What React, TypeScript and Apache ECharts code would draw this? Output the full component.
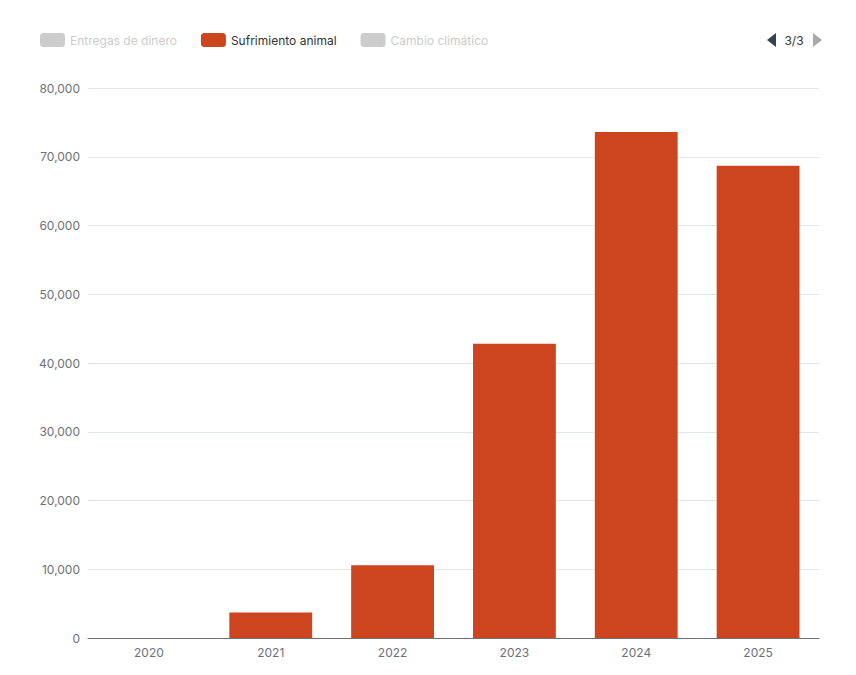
import React, { useEffect, useRef } from "react";
import * as echarts from "echarts";

const years = ["2020", "2021", "2022", "2023", "2024", "2025"];
const sufrimientoAnimal = [0, 3700, 10600, 42800, 73600, 68700];
const entregasDeDinero: number[] = [];
const cambioClimatico: number[] = [];
const seriesNames = ["Entregas de dinero", "Sufrimiento animal", "Cambio climático"];
const pagerText = "3/3";
const FONT = "Inter, Liberation Sans, Arial, sans-serif";

export default function App() {
  const ref = useRef<HTMLDivElement>(null);
  useEffect(() => {
    document.body.style.margin = "0";
    const chart = echarts.init(ref.current!, null, { renderer: "svg" });
    chart.setOption({
      animation: false,
      textStyle: { fontFamily: FONT },
      color: ["#5470c6", "#CC451E", "#91cc75"],
      legend: {
        left: 35,
        top: 28,
        itemWidth: 25,
        itemHeight: 14,
        itemGap: 24,
        data: seriesNames,
        selected: {
          [seriesNames[0]]: false,
          [seriesNames[1]]: true,
          [seriesNames[2]]: false,
        },
        textStyle: { color: "#333", fontSize: 12, fontFamily: FONT },
        inactiveColor: "#ccc",
      },
      graphic: [
        {
          type: "polygon",
          shape: { points: [[776, 33], [776, 47], [767, 40]] },
          style: { fill: "#2f4554" },
        },
        {
          type: "text",
          x: 794,
          y: 40,
          style: {
            text: pagerText,
            fill: "#333",
            fontSize: 12,
            fontFamily: FONT,
            align: "center",
            verticalAlign: "middle",
          },
        },
        {
          type: "polygon",
          shape: { points: [[813, 33], [813, 47], [822, 40]] },
          style: { fill: "#aaa" },
        },
      ],
      grid: { left: 88, right: 37, top: 88, bottom: 37 },
      xAxis: {
        type: "category",
        data: years,
        axisLine: { lineStyle: { color: "#6E7079" } },
        axisTick: { lineStyle: { color: "#6E7079" } },
        axisLabel: { color: "#6E7079", fontSize: 12, margin: 8, fontFamily: FONT },
      },
      yAxis: {
        type: "value",
        min: 0,
        max: 80000,
        interval: 10000,
        axisLabel: {
          color: "#6E7079",
          fontSize: 12,
          margin: 8,
          fontFamily: FONT,
          formatter: (v: number) => v.toLocaleString("en-US"),
        },
        splitLine: { lineStyle: { color: "#E0E6F1" } },
      },
      series: [
        { name: seriesNames[0], type: "bar", data: entregasDeDinero, barWidth: "68%" },
        { name: seriesNames[1], type: "bar", data: sufrimientoAnimal, barWidth: "68%" },
        { name: seriesNames[2], type: "bar", data: cambioClimatico, barWidth: "68%" },
      ],
    });
    return () => chart.dispose();
  }, []);
  return (
    <div
      ref={ref}
      style={{ position: "absolute", left: 0, top: 0, width: 856, height: 675 }}
    />
  );
}
